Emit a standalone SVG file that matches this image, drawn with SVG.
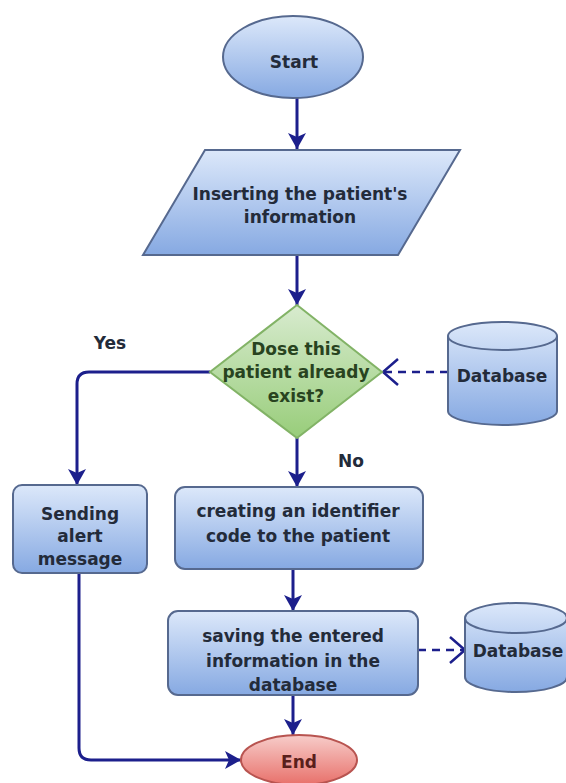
<svg xmlns="http://www.w3.org/2000/svg" width="566" height="783" viewBox="0 0 566 783">
<defs>
<linearGradient id="gBlue" x1="0" y1="0" x2="0" y2="1">
<stop offset="0" stop-color="#dce8fa"/>
<stop offset="1" stop-color="#86a9e2"/>
</linearGradient>
<linearGradient id="gGreen" x1="0" y1="0" x2="0" y2="1">
<stop offset="0" stop-color="#d8ebcf"/>
<stop offset="1" stop-color="#98cd7a"/>
</linearGradient>
<linearGradient id="gRed" x1="0" y1="0" x2="0" y2="1">
<stop offset="0" stop-color="#f7cdca"/>
<stop offset="1" stop-color="#e8706a"/>
</linearGradient>
<marker id="block" viewBox="0 0 16 20" refX="16" refY="10" markerWidth="16" markerHeight="20" markerUnits="userSpaceOnUse" orient="auto">
<path d="M0,1 L16,10 L0,19 L4,10 Z" fill="#1c1f8c"/>
</marker>
<marker id="open" viewBox="0 0 18 28" refX="16" refY="14" markerWidth="18" markerHeight="28" markerUnits="userSpaceOnUse" orient="auto">
<path d="M1,1 L16,14 L1,27" fill="none" stroke="#1c1f8c" stroke-width="2.5"/>
</marker>
<style>
.box{fill:url(#gBlue);stroke:#56698f;stroke-width:2}
.dia{fill:url(#gGreen);stroke:#82b366;stroke-width:2}
.red{fill:url(#gRed);stroke:#b85450;stroke-width:2}
.t{font-family:"DejaVu Sans","Liberation Sans",sans-serif;font-weight:bold;font-size:17px;fill:#232b3a;text-anchor:middle}
.tg{fill:#28431f}
.tr{fill:#5a1f1c}
.c{fill:none;stroke:#1c1f8c;stroke-width:3;marker-end:url(#block)}
.d{fill:none;stroke:#1c1f8c;stroke-width:2.5;stroke-dasharray:8,6;marker-end:url(#open)}
</style>
</defs>
<rect width="566" height="783" fill="#ffffff"/>

<g id="connectors">
<path class="c" d="M297,98 V149"/>
<path class="c" d="M297,255 V305"/>
<path class="c" d="M297,438 V487"/>
<path class="c" d="M293,569 V611"/>
<path class="c" d="M293,695 V735"/>
<path class="c" d="M210,372 H89 Q77,372 77,384 V485"/>
<path class="c" d="M79,573 V748 Q79,760 91,760 H241"/>
<path class="d" d="M448,372 H383"/>
<path class="d" d="M418,650 H465"/>
<text class="t" x="110" y="349">Yes</text>
<text class="t" x="351" y="467">No</text>
</g>

<g id="start">
<ellipse class="box" cx="293" cy="57" rx="70" ry="41"/>
<text class="t" x="294" y="68">Start</text>
</g>

<g id="insert">
<polygon class="box" points="205,150 460,150 398,255 143,255"/>
<text class="t" x="300" y="200">Inserting the patient's</text>
<text class="t" x="300" y="223">information</text>
</g>

<g id="decision">
<polygon class="dia" points="297,305 382,372 297,438 210,372"/>
<text class="t tg" x="296" y="355">Dose this</text>
<text class="t tg" x="296" y="378">patient already</text>
<text class="t tg" x="296" y="402">exist?</text>
</g>

<g id="db1">
<path class="box" d="M448,336 A54.5,14 0 0 1 557,336 V411 A54.5,14 0 0 1 448,411 Z"/>
<path d="M448,336 A54.5,14 0 0 0 557,336" fill="none" stroke="#56698f" stroke-width="2"/>
<text class="t" x="502" y="382">Database</text>
</g>

<g id="alert">
<rect class="box" x="13" y="485" width="134" height="88" rx="9"/>
<text class="t" x="80" y="520">Sending</text>
<text class="t" x="80" y="542">alert</text>
<text class="t" x="80" y="565">message</text>
</g>

<g id="create">
<rect class="box" x="175" y="487" width="248" height="82" rx="10"/>
<text class="t" x="298" y="517">creating an identifier</text>
<text class="t" x="298" y="542">code to the patient</text>
</g>

<g id="save">
<rect class="box" x="168" y="611" width="250" height="84" rx="10"/>
<text class="t" x="293" y="642">saving the entered</text>
<text class="t" x="293" y="667">information in the</text>
<text class="t" x="293" y="691">database</text>
</g>

<g id="db2">
<path class="box" d="M465,618 A51,15 0 0 1 567,618 V677 A51,15 0 0 1 465,677 Z"/>
<path d="M465,618 A51,15 0 0 0 567,618" fill="none" stroke="#56698f" stroke-width="2"/>
<text class="t" x="518" y="657">Database</text>
</g>

<g id="end">
<ellipse class="red" cx="299" cy="760" rx="58" ry="25"/>
<text class="t tr" x="299" y="768">End</text>
</g>
</svg>
